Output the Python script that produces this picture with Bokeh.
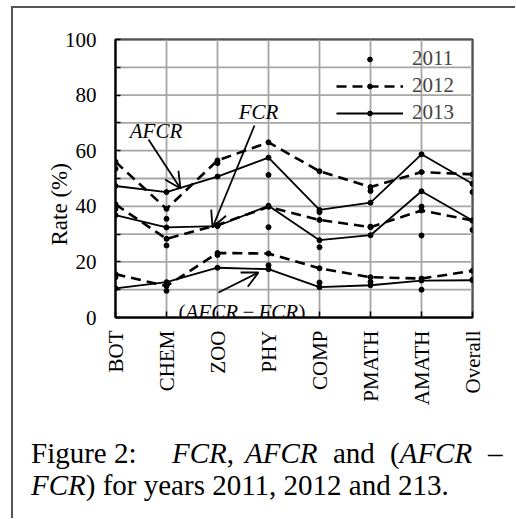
import math
from bokeh.plotting import figure
from bokeh.layouts import column
from bokeh.models import (Range1d, FixedTicker, Legend, LegendItem, Label, Arrow,
                          OpenHead, Title, Div)
from bokeh.embed import file_html
from bokeh.resources import INLINE

# ---------------- data ----------------
categories = ["BOT", "CHEM", "ZOO", "PHY", "COMP", "PMATH", "AMATH", "Overall"]
years = ["2011", "2012", "2013"]

afcr_2011 = [53.5, 35.5, 55.5, 51.3, 37.9, 45.5, 39.9, 45.1]
fcr_2011 = [39.0, 25.9, 33.0, 32.5, 25.3, 32.7, 29.5, 31.5]
diff_2011 = [14.5, 9.6, 22.5, 18.8, 12.6, 12.8, 10.0, 13.6]

afcr_2012 = [56.0, 39.1, 56.5, 63.0, 52.6, 46.9, 52.3, 51.5]
fcr_2012 = [40.7, 28.3, 33.3, 39.8, 35.1, 32.5, 38.5, 34.9]
diff_2012 = [15.6, 11.3, 23.2, 23.0, 17.7, 14.5, 14.0, 16.8]

afcr_2013 = [47.3, 45.1, 50.7, 57.5, 38.7, 41.3, 58.7, 48.1]
fcr_2013 = [36.8, 32.4, 32.9, 40.2, 27.8, 29.6, 45.4, 34.9]
diff_2013 = [10.5, 12.7, 17.9, 17.4, 10.9, 11.6, 13.3, 13.4]

y_ticks = [0, 20, 40, 60, 80, 100]
y_minor = [10, 30, 50, 70, 90]

# ---------------- page geometry ----------------
MX, MY, BW = 11, 6, 2            # layout margin and border width
OX, OY = MX + BW, MY + BW        # where the children start on the page
TOTAL_W = 502
H1 = 420                         # chart figure height
H2 = 90                          # caption height
FL, FR, FT, FB = 115, 472, 39, 317     # chart frame edges on the page
NX = len(categories) - 1
Y0, Y1 = 0, 100

def px2x(px):
    return (px - FL) / (FR - FL) * NX

def px2y(py):
    return (FB - py) / (FB - FT) * (Y1 - Y0)

FONT = "Liberation Serif"

p = figure(width=TOTAL_W, height=H1, x_range=Range1d(0, NX), y_range=Range1d(Y0, Y1),
           output_backend="svg", toolbar_location=None,
           min_border_left=FL - OX, min_border_right=TOTAL_W - (FR - OX),
           min_border_top=FT - OY, min_border_bottom=H1 - (FB - OY))
p.background_fill_color = "white"
p.border_fill_color = "white"
p.outline_line_color = "black"
p.outline_line_width = 2

xs = list(range(len(categories)))

# axes
p.xaxis.ticker = FixedTicker(ticks=xs)
p.xaxis.major_label_overrides = {i: c for i, c in enumerate(categories)}
p.xaxis.major_label_orientation = math.pi / 2
p.xaxis.major_label_standoff = 13
p.xaxis.major_tick_in = 6
p.xaxis.major_tick_out = 0

p.yaxis.ticker = FixedTicker(ticks=y_ticks, minor_ticks=y_minor)
p.yaxis.major_label_standoff = 19
p.yaxis.major_tick_in = 5
p.yaxis.major_tick_out = 0
p.yaxis.minor_tick_in = 5
p.yaxis.minor_tick_out = 0

for ax in (p.xaxis, p.yaxis):
    ax.axis_line_color = "black"
    ax.axis_line_width = 2
    ax.major_tick_line_color = "black"
    ax.major_tick_line_width = 1.5
    ax.minor_tick_line_color = "black"
    ax.minor_tick_line_width = 1.5
    ax.major_label_text_font = FONT
    ax.major_label_text_font_size = "21px"
    ax.major_label_text_color = "black"
p.xaxis.minor_tick_line_color = None

# grid lines drawn as segments at the tick positions (underneath the data)
GRID = "#a6a6a6"
p.grid.visible = False
hy = sorted(y_ticks + y_minor)
p.segment(x0=xs, y0=[Y0] * len(xs), x1=xs, y1=[Y1] * len(xs),
          line_color=GRID, line_width=1.8)
p.segment(x0=[0] * len(hy), y0=hy, x1=[NX] * len(hy), y1=hy,
          line_color=GRID, line_width=1.8)

# y-axis title as a left-side title (shifted down like the reference)
p.add_layout(Title(text="Rate (%)", align="left", offset=72, standoff=-20,
                   text_font=FONT, text_font_size="23px", text_font_style="normal",
                   text_color="black"), "left")

# series
MS = 5
r11 = []
for ys in (afcr_2011, fcr_2011, diff_2011):
    r11.append(p.scatter(xs, ys, size=MS, color="black", marker="circle"))

r12 = []
for ys in (afcr_2012, fcr_2012, diff_2012):
    l = p.line(xs, ys, line_color="black", line_width=2.6, line_dash="10 6")
    s = p.scatter(xs, ys, size=MS, color="black", marker="circle")
    r12 += [l, s]

r13 = []
for ys in (afcr_2013, fcr_2013, diff_2013):
    l = p.line(xs, ys, line_color="black", line_width=1.8)
    s = p.scatter(xs, ys, size=MS, color="black", marker="circle")
    r13 += [l, s]

legend = Legend(items=[LegendItem(label=years[0], renderers=[r11[0]]),
                       LegendItem(label=years[1], renderers=r12[:2]),
                       LegendItem(label=years[2], renderers=r13[:2])],
                location=(221, 191), orientation="vertical",
                background_fill_alpha=0, border_line_alpha=0,
                padding=0, margin=0, spacing=0,
                glyph_width=67, glyph_height=12, label_height=27,
                label_standoff=9, label_text_font=FONT,
                label_text_font_size="21px")
p.add_layout(legend)

# annotations: arrows and labels
arrows = [  # (start px, end px)
    ((148, 139), (180, 188)),
    ((254, 125), (212, 227)),
    ((218, 292), (258, 272)),
]
for (sx, sy), (ex, ey) in arrows:
    p.add_layout(Arrow(x_start=px2x(sx), y_start=px2y(sy), x_end=px2x(ex), y_end=px2y(ey),
                       line_width=1.8, line_color="black",
                       end=OpenHead(size=16, line_width=1.8, line_color="black")))

def lab(text, px, py, style="normal", align="left", baseline="alphabetic"):
    p.add_layout(Label(x=px2x(px), y=px2y(py), text=text, text_font=FONT,
                       text_font_size="21px", text_font_style=style, text_color="black",
                       text_align=align, text_baseline=baseline))

lab("AFCR", 155.5, 130, style="italic", align="center", baseline="middle")
lab("FCR", 258, 111, style="italic", align="center", baseline="middle")
lab("(", 178, 311)
lab("AFCR", 185, 311, style="italic")
lab("\u2212", 242, 311)
lab("FCR", 258, 311, style="italic")
lab(")", 298, 311)

# ---------------- caption (HTML text, absolutely positioned words) ----------------
CAP_SIZE = 29
caption_line1 = [("Figure 2:", 31), ("<i>FCR</i>,", 172), ("<i>AFCR</i>", 245),
                 ("and", 333), ("(<i>AFCR</i>", 390), ("\u2013", 488)]
caption_line2 = [("<i>FCR</i>) for years 2011, 2012 and 213.", 31)]
baselines = [463, 495]
top_caption = OY + H1
asc = 0.8375 * CAP_SIZE
spans = []
for line, base in zip((caption_line1, caption_line2), baselines):
    for txt, xpx in line:
        spans.append(
            f'<span style="position:absolute;left:{xpx - OX}px;top:{base - top_caption - asc:.1f}px;'
            f'white-space:pre;">{txt}</span>')
html = (f'<div style="position:relative;width:{TOTAL_W}px;height:{H2}px;'
        f"font-family:'{FONT}';font-size:{CAP_SIZE}px;line-height:{CAP_SIZE}px;color:black;\">"
        + "".join(spans) + "</div>")
cap = Div(text=html, width=TOTAL_W, height=H2, margin=0)

layout = column(p, cap, spacing=0, margin=(MY, 0, 0, MX),
                styles={"border-top": f"{BW}px solid #555555",
                        "border-left": f"{BW}px solid #555555"})

open("out.html", "w").write(file_html(layout, INLINE))
